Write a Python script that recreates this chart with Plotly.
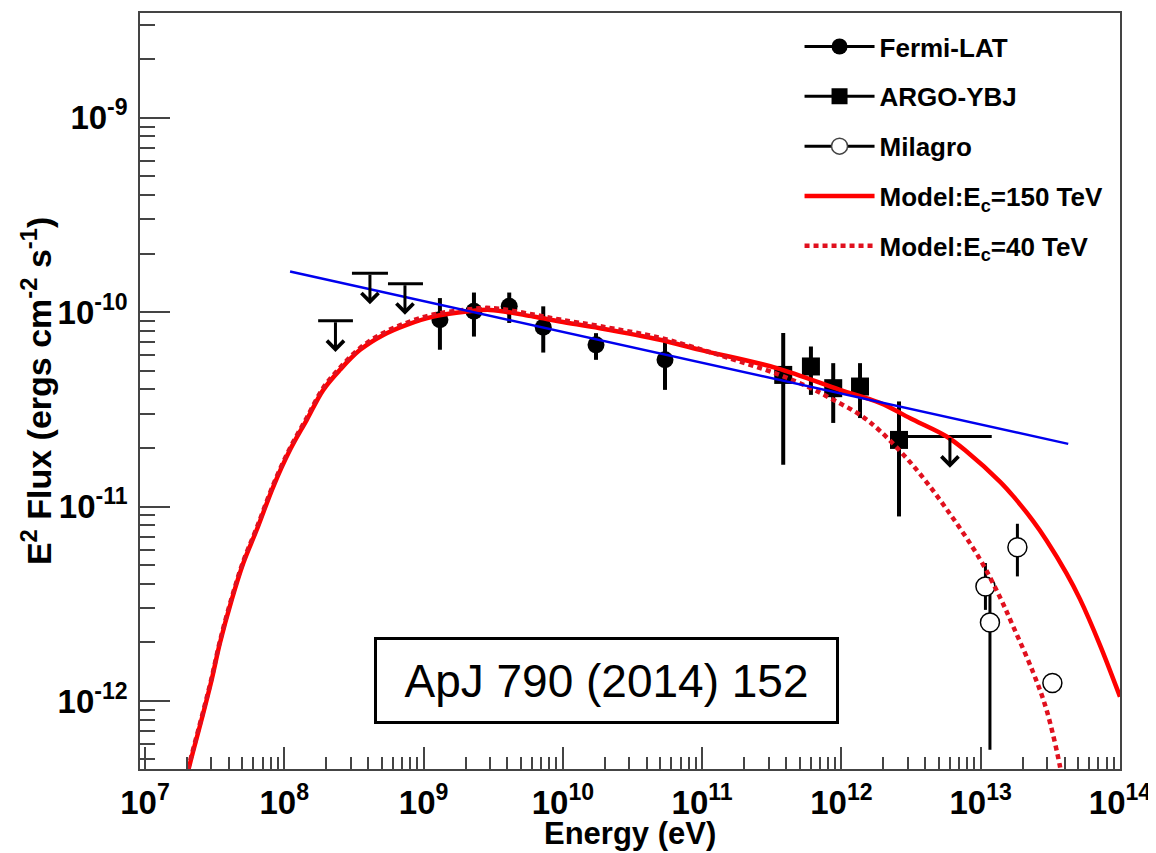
import numpy as np
import plotly.graph_objects as go

# ---------------- data ----------------
# Fermi-LAT points (E in eV, E^2 flux in erg cm^-2 s^-1)
fermi_E = [1.31e9, 2.30e9, 4.12e9, 7.23e9, 1.73e10, 5.41e10]
fermi_F = [9.12e-11, 1.01e-10, 1.07e-10, 8.36e-11, 6.78e-11, 5.68e-11]
fermi_hi = [1.18e-10, 1.26e-10, 1.26e-10, 1.07e-10, 7.79e-11, 7.34e-11]
fermi_lo = [6.40e-11, 7.48e-11, 8.79e-11, 6.19e-11, 5.68e-11, 3.98e-11]

# Fermi-LAT upper limits
fermi_ul_E = [2.33e8, 4.12e8, 7.35e8]
fermi_ul_F = [9.02e-11, 1.585e-10, 1.40e-10]
fermi_ul_Elo = [1.75e8, 3.06e8, 5.55e8]
fermi_ul_Ehi = [3.11e8, 5.55e8, 9.90e8]

# ARGO-YBJ points
argo_E = [3.82e11, 6.04e11, 8.73e11, 1.36e12, 2.59e12]
argo_F = [4.75e-11, 5.25e-11, 4.06e-11, 4.14e-11, 2.20e-11]
argo_hi = [7.80e-11, 6.65e-11, 5.46e-11, 5.46e-11, 3.47e-11]
argo_lo = [1.64e-11, 3.75e-11, 2.69e-11, 2.85e-11, 8.89e-12]

# ARGO-YBJ upper limit
argo_ul_E = [6.01e12]
argo_ul_F = [2.29e-11]
argo_ul_Elo = [2.90e12]
argo_ul_Ehi = [1.20e13]

# Milagro points
mil_E = [1.081e13, 1.165e13, 1.834e13, 3.27e13]
mil_F = [3.88e-12, 2.53e-12, 6.17e-12, 1.236e-12]
mil_hi = [5.12e-12, 3.73e-12, 8.15e-12, 1.33e-12]
mil_lo = [2.94e-12, 5.61e-13, 4.37e-12, 1.10e-12]

# Power-law fit (blue)
pl_E = [1.10e8, 4.25e13]
pl_F = [1.615e-10, 2.10e-11]

# Model Ec = 150 TeV (solid red)
m150_E = [1.98e7, 2.05e7, 2.62e7, 3.01e7, 3.45e7, 4.19e7, 5.08e7, 6.34e7, 8.34e7,
          1.10e8, 1.45e8, 1.905e8, 2.51e8, 3.50e8, 5.14e8, 7.56e8, 1.174e9, 2.04e9,
          3.00e9, 6.13e9, 9.53e9, 1.846e10, 4.98e10, 9.64e10, 3.43e11, 9.75e11,
          1.89e12, 3.28e12, 5.69e12, 7.92e12, 1.373e13, 1.711e13, 2.38e13, 2.97e13,
          4.14e13, 5.15e13, 7.17e13, 1.0e14]
m150_F = [3.93e-13, 4.43e-13, 8.67e-13, 1.285e-12, 1.985e-12, 3.31e-12, 5.12e-12,
          7.59e-12, 1.267e-11, 1.956e-11, 2.79e-11, 3.98e-11, 5.045e-11, 6.39e-11,
          7.63e-11, 8.60e-11, 9.48e-11, 1.006e-10, 1.026e-10, 9.48e-11, 8.94e-11,
          8.26e-11, 7.20e-11, 6.39e-11, 5.15e-11, 3.98e-11, 3.41e-11, 2.79e-11,
          2.29e-11, 1.918e-11, 1.344e-11, 1.131e-11, 8.41e-12, 6.69e-12, 4.52e-12,
          3.35e-12, 1.945e-12, 1.051e-12]

# Model Ec = 40 TeV (dotted red)
m40_E = [1.98e7, 2.05e7, 2.62e7, 3.01e7, 3.45e7, 4.19e7, 5.08e7, 6.34e7, 8.34e7,
         1.10e8, 1.45e8, 1.905e8, 2.51e8, 3.50e8, 5.14e8, 7.56e8, 1.174e9, 2.04e9,
         3.00e9, 6.13e9, 9.53e9, 1.846e10, 4.98e10, 9.64e10, 1.499e11, 3.43e11,
         5.94e11, 8.73e11, 1.358e12, 1.89e12, 3.28e12, 5.69e12, 9.87e12, 1.373e13,
         1.711e13, 2.38e13, 2.97e13, 3.70e13, 3.83e13]
m40_F = [4.03e-13, 4.54e-13, 8.87e-13, 1.316e-12, 2.03e-12, 3.39e-12, 5.24e-12,
         7.77e-12, 1.297e-11, 2.00e-11, 2.86e-11, 4.08e-11, 5.17e-11, 6.54e-11,
         7.81e-11, 8.81e-11, 9.71e-11, 1.030e-10, 1.050e-10, 9.71e-11, 9.15e-11,
         8.46e-11, 7.37e-11, 6.45e-11, 5.85e-11, 4.81e-11, 4.08e-11, 3.54e-11,
         2.96e-11, 2.45e-11, 1.619e-11, 9.69e-12, 5.36e-12, 3.42e-12, 2.415e-12,
         1.401e-12, 8.99e-13, 4.64e-13, 3.93e-13]

x_tick_vals = [1e7, 1e8, 1e9, 1e10, 1e11, 1e12, 1e13, 1e14]
x_tick_text = ["10<sup>7</sup>", "10<sup>8</sup>", "10<sup>9</sup>", "10<sup>10</sup>",
               "10<sup>11</sup>", "10<sup>12</sup>", "10<sup>13</sup>", "10<sup>14</sup>"]
y_tick_vals = [1e-12, 1e-11, 1e-10, 1e-9]
y_tick_text = ["10<sup>-12</sup>", "10<sup>-11</sup>", "10<sup>-10</sup>", "10<sup>-9</sup>"]

# ---------------- styling ----------------
FONT = "Liberation Sans, Arial, Helvetica, sans-serif"
AXC = "#444444"
ARROW_DEX = 0.16   # drawn length of the upper-limit arrows (in decades)


def err_arrays(v, hi, lo):
    return [h - x for x, h in zip(v, hi)], [x - l for x, l in zip(v, lo)]


def segs(lo, hi, y):
    xs, ys = [], []
    for a, b, c in zip(lo, hi, y):
        xs += [a, b, None]
        ys += [c, c, None]
    return xs, ys


fig = go.Figure()

# data points
ep, em = err_arrays(fermi_F, fermi_hi, fermi_lo)
fig.add_trace(go.Scatter(
    x=fermi_E, y=fermi_F, mode="markers", showlegend=False,
    marker=dict(symbol="circle", size=17, color="black"),
    error_y=dict(type="data", symmetric=False, array=ep, arrayminus=em,
                 color="black", thickness=4, width=0)))

ep, em = err_arrays(argo_F, argo_hi, argo_lo)
fig.add_trace(go.Scatter(
    x=argo_E, y=argo_F, mode="markers", showlegend=False,
    marker=dict(symbol="square", size=18, color="black"),
    error_y=dict(type="data", symmetric=False, array=ep, arrayminus=em,
                 color="black", thickness=4, width=0)))

ep, em = err_arrays(mil_F, mil_hi, mil_lo)
fig.add_trace(go.Scatter(
    x=mil_E, y=mil_F, mode="markers", showlegend=False,
    marker=dict(symbol="circle", size=19, color="white",
                line=dict(width=1.5, color="black")),
    error_y=dict(type="data", symmetric=False, array=ep, arrayminus=em,
                 color="black", thickness=3, width=0)))

# upper-limit horizontal bars
ux, uy = segs(fermi_ul_Elo + argo_ul_Elo, fermi_ul_Ehi + argo_ul_Ehi, fermi_ul_F + argo_ul_F)
fig.add_trace(go.Scatter(x=ux, y=uy, mode="lines", showlegend=False,
                         line=dict(color="black", width=3)))

# model curves and power law
fig.add_trace(go.Scatter(x=m150_E, y=m150_F, mode="lines", showlegend=False,
                         line=dict(color="#ff0000", width=4.5, shape="spline", smoothing=1.0)))
fig.add_trace(go.Scatter(x=m40_E, y=m40_F, mode="lines", showlegend=False,
                         line=dict(color="#e0101e", width=4.5, dash="5px,4px",
                                   shape="spline", smoothing=1.0)))
fig.add_trace(go.Scatter(x=pl_E, y=pl_F, mode="lines", showlegend=False,
                         line=dict(color="#0000ee", width=2.5)))

# legend entries
leg = [
    ("Fermi-LAT", dict(mode="lines+markers", line=dict(color="black", width=3),
                       marker=dict(symbol="circle", size=16, color="black"))),
    ("ARGO-YBJ", dict(mode="lines+markers", line=dict(color="black", width=3),
                      marker=dict(symbol="square", size=17, color="black"))),
    ("Milagro", dict(mode="lines+markers", line=dict(color="black", width=3),
                     marker=dict(symbol="circle", size=17, color="white",
                                 line=dict(width=1.5, color="#444")))),
    ("Model:E<sub>c</sub>=150 TeV", dict(mode="lines", line=dict(color="#ff0000", width=4.5))),
    ("Model:E<sub>c</sub>=40 TeV", dict(mode="lines", line=dict(color="#e0101e", width=4.5,
                                                             dash="5px,4px"))),
]
for i, (name, kw) in enumerate(leg):
    fig.add_trace(go.Scatter(x=[None], y=[None], name=name, legendgroup=f"g{i}",
                             showlegend=True, **kw))

# upper-limit arrows
annotations = []
for e, f in zip(fermi_ul_E + argo_ul_E, fermi_ul_F + argo_ul_F):
    annotations.append(dict(
        x=np.log10(e), y=np.log10(f) - ARROW_DEX, ax=np.log10(e), ay=np.log10(f),
        xref="x", yref="y", axref="x", ayref="y", text="", showarrow=True,
        arrowhead=4, arrowsize=1.1, arrowwidth=3, arrowcolor="black", standoff=0))

# reference box
annotations.append(dict(
    x=0.476, y=0.1177, xref="paper", yref="paper", xanchor="center", yanchor="middle",
    text="ApJ 790 (2014) 152", showarrow=False,
    font=dict(family=FONT, size=46, color="black"),
    bordercolor="black", borderwidth=3, borderpad=1, width=457, height=79,
    bgcolor="white"))

# axis titles
annotations.append(dict(
    x=0.5, y=-0.0847, xref="paper", yref="paper", xanchor="center", yanchor="middle",
    text="Energy (eV)", showarrow=False,
    font=dict(family=FONT, size=31, color="black", weight="bold")))
annotations.append(dict(
    x=-0.106, y=0.5, xref="paper", yref="paper", xanchor="center", yanchor="middle",
    textangle=-90, text="E<sup>2</sup> Flux (ergs cm<sup>-2</sup> s<sup>-1</sup>)",
    showarrow=False, font=dict(family=FONT, size=34, color="black", weight="bold")))

minor_x = [k * 10.0 ** n for n in range(6, 14) for k in range(2, 10)]
minor_y = [k * 10.0 ** n for n in range(-13, -8) for k in range(2, 10)]

tickfont = dict(family=FONT, size=33, color="black", weight="bold")

# the page body adds an 8px offset; the figure is sized to fill the rest
fig.update_layout(
    width=1148, height=845,
    margin=dict(l=132, r=36, t=5, b=84, autoexpand=False),
    paper_bgcolor="white", plot_bgcolor="white",
    showlegend=True,
    legend=dict(x=0.673, y=0.9866, xanchor="left", yanchor="top",
                bgcolor="rgba(0,0,0,0)", borderwidth=0,
                font=dict(family=FONT, size=26, color="black", weight="bold"),
                tracegroupgap=13, itemwidth=70),
    xaxis=dict(type="log", range=[6.964, 14.0], showgrid=False, zeroline=False,
               automargin=False,
               tickmode="array", tickvals=x_tick_vals, ticktext=x_tick_text,
               ticks="inside", ticklen=22, tickwidth=1.5, tickcolor=AXC,
               showline=True, linecolor=AXC, linewidth=1.5, mirror=True,
               tickfont=tickfont, ticklabelstandoff=4,
               minor=dict(tickmode="array", tickvals=minor_x, ticks="inside",
                          ticklen=12, tickwidth=1.5, tickcolor=AXC, showgrid=False)),
    yaxis=dict(type="log", range=[-12.35, -8.462], showgrid=False, zeroline=False,
               automargin=False,
               tickmode="array", tickvals=y_tick_vals, ticktext=y_tick_text,
               ticks="inside", ticklen=30, tickwidth=1.5, tickcolor=AXC,
               showline=True, linecolor=AXC, linewidth=1.5, mirror=True,
               tickfont=tickfont, ticklabelstandoff=4,
               minor=dict(tickmode="array", tickvals=minor_y, ticks="inside",
                          ticklen=15, tickwidth=1.5, tickcolor=AXC, showgrid=False)),
    annotations=annotations,
)

fig.write_html("out.html")
